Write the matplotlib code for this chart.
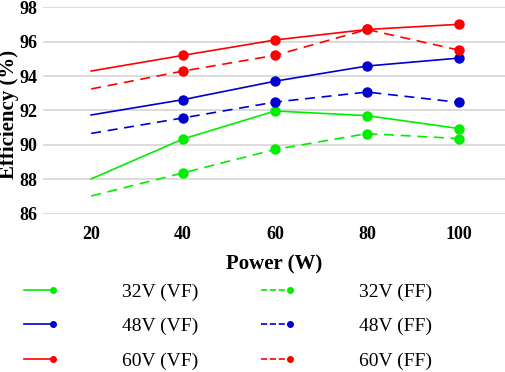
import matplotlib
matplotlib.use("Agg")
import matplotlib.pyplot as plt
from matplotlib.lines import Line2D
from matplotlib.legend_handler import HandlerBase
import numpy as np

power = [20, 40, 60, 80, 100]
v32_vf = [88.03, 90.35, 91.97, 91.70, 90.95]
v32_ff = [87.04, 88.38, 89.74, 90.66, 90.37]
v48_vf = [91.74, 92.63, 93.70, 94.58, 95.04]
v48_ff = [90.67, 91.57, 92.49, 93.07, 92.47]
v60_vf = [94.29, 95.20, 96.09, 96.70, 97.00]
v60_ff = [93.25, 94.29, 95.20, 96.70, 95.50]

labels_vf = ["32V (VF)", "48V (VF)", "60V (VF)"]
labels_ff = ["32V (FF)", "48V (FF)", "60V (FF)"]
colors = ["#00EE00", "#0000CC", "#FF0000"]

plt.rcParams['font.family'] = ['Liberation Serif', 'DejaVu Serif']

fig = plt.figure(figsize=(5.05, 3.72), dpi=100)
ax = fig.add_axes([0.085, 0.425, 0.915, 0.556])

vf_series = [v32_vf, v48_vf, v60_vf]
ff_series = [v32_ff, v48_ff, v60_ff]
vf_lines, ff_lines = [], []
for vals, c, lab in zip(vf_series, colors, labels_vf):
    l, = ax.plot(power, vals, color=c, lw=1.2, marker='o', ms=6.5,
                 markevery=[1, 2, 3, 4], label=lab, zorder=3)
    vf_lines.append(l)
for vals, c, lab in zip(ff_series, colors, labels_ff):
    l, = ax.plot(power, vals, color=c, lw=1.2, ls=(0, (6, 4)), marker='o', ms=6.5,
                 markevery=[1, 2, 3, 4], label=lab, zorder=3)
    ff_lines.append(l)

ax.set_xlim(9.5, 110)
ax.set_ylim(86, 98)
ax.set_xticks(power)
ax.set_yticks(np.arange(86, 99, 2))
ax.grid(axis='y', color='#d9d9d9', lw=1.3)
ax.set_axisbelow(True)
for s in ax.spines.values():
    s.set_visible(False)
ax.tick_params(length=0, labelsize=13, pad=4)
for t in ax.get_xticklabels() + ax.get_yticklabels():
    t.set_fontweight('bold')
ax.tick_params(axis='x', pad=9)
ax.set_xlabel("Power (W)", fontsize=15, fontweight='bold', labelpad=8)
ax.set_ylabel("Efficiency (%)", fontsize=15, fontweight='bold')
ax.yaxis.set_label_coords(-0.052, 0.48)


class EndMarkerHandler(HandlerBase):
    def create_artists(self, legend, orig_handle, xdescent, ydescent,
                       width, height, fontsize, trans):
        y = (height - ydescent) / 2
        line = Line2D([-xdescent, width - xdescent], [y, y],
                      color=orig_handle.get_color(),
                      ls=orig_handle.get_linestyle(), lw=1.2,
                      marker='o', ms=4, markevery=[1])
        line.set_transform(trans)
        return [line]


handles = vf_lines + ff_lines
leg = fig.legend(handles, [h.get_label() for h in handles], ncol=2,
                 loc='upper left', bbox_to_anchor=(0.048, 0.238),
                 frameon=False, fontsize=14, handlelength=1.5,
                 handletextpad=3.55, columnspacing=3.2, labelspacing=0.85,
                 borderaxespad=0, borderpad=0,
                 handler_map={Line2D: EndMarkerHandler()})

fig.savefig("out.png", dpi=100)
